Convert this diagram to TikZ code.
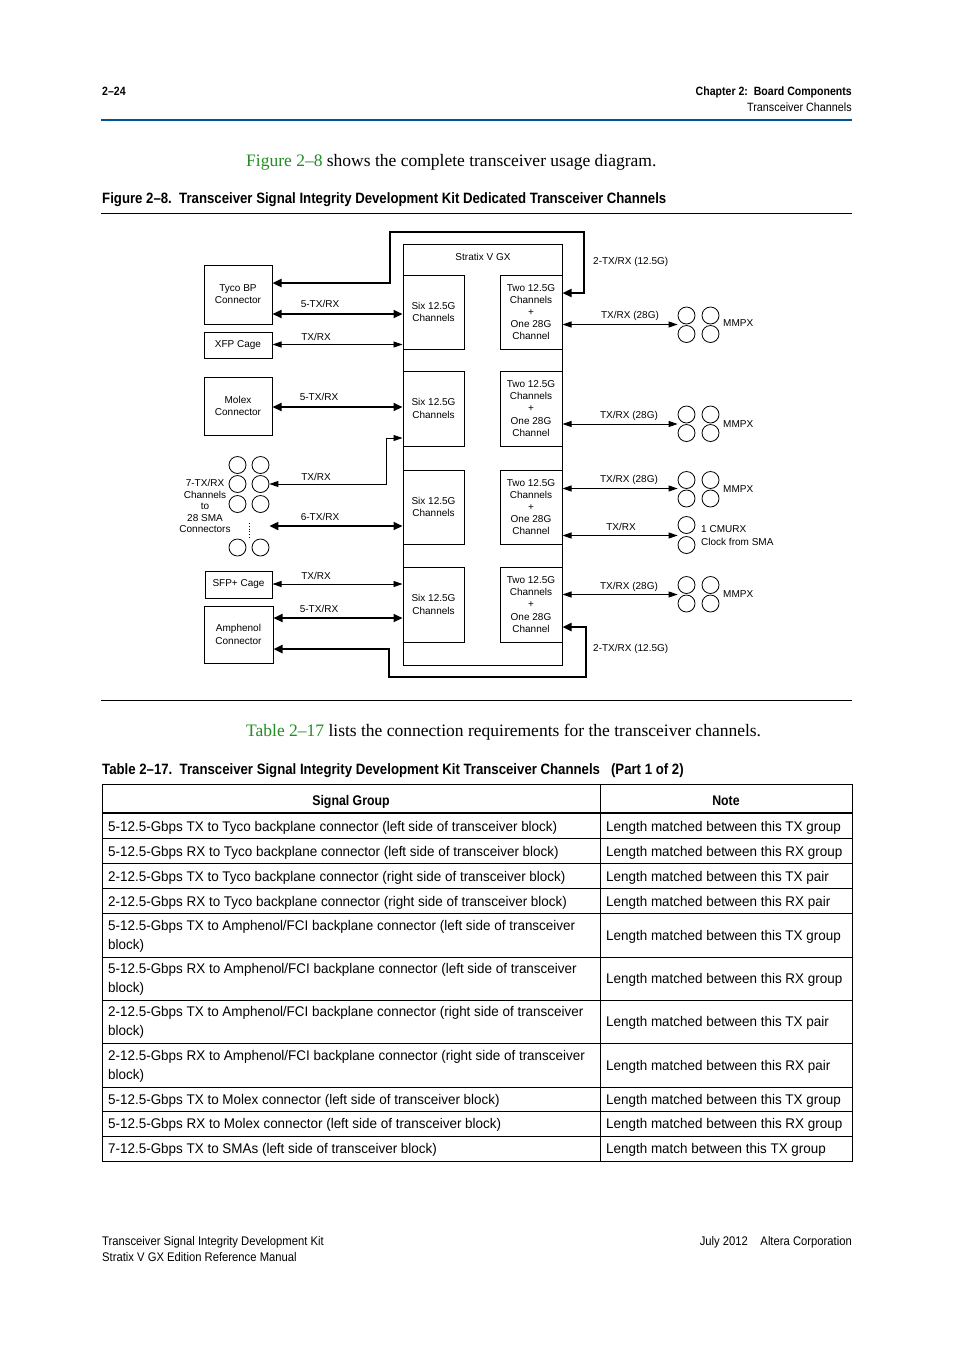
\documentclass[tikz,border=0pt]{standalone}
\usepackage{fontspec}
\setmainfont{Liberation Serif}
\setsansfont{Liberation Sans}
\newfontfamily\condfont[FakeStretch=0.9]{Liberation Sans}
\newfontfamily\capfamily[FakeStretch=0.88]{Liberation Sans}
\newfontfamily\tabfamily[FakeStretch=0.96]{Liberation Sans}
\usetikzlibrary{arrows.meta, positioning}
\definecolor{FigGreen}{RGB}{34,140,34}
\definecolor{RuleBlue}{RGB}{0,84,150}
\newcommand{\diagfont}{\sffamily\fontsize{10}{12.2}\selectfont}
\newcommand{\smafont}{\sffamily\fontsize{10}{11.5}\selectfont}
\newcommand{\headfont}{\condfont\fontsize{12}{16}\selectfont}
\newcommand{\footfont}{\condfont\fontsize{12.5}{16}\selectfont}
\newcommand{\headbold}{\capfamily\bfseries\fontsize{12}{16}\selectfont}
\newcommand{\capfont}{\capfamily\bfseries\fontsize{15}{18}\selectfont}
\newcommand{\bodyfont}{\rmfamily\fontsize{17.5}{20}\selectfont}
\newcommand{\tabfont}{\tabfamily\fontsize{14}{19}\selectfont}
\newcommand{\tabbold}{\capfamily\bfseries\fontsize{14}{19}\selectfont}

\begin{document}
\begin{tikzpicture}[x=1pt, y=-1pt,
  blk/.style={draw, line width=1pt, inner sep=0pt, align=center, font=\diagfont},
  lbl/.style={font=\diagfont, inner sep=0pt},
  sma/.style={circle, draw, line width=0.8pt, minimum size=17pt, inner sep=0pt},
  thinarr/.style={line width=0.9pt,
                  {Triangle[length=9pt,width=6pt]}-{Triangle[length=9pt,width=6pt]}},
  thickarr/.style={line width=2pt,
                   {Triangle[length=9pt,width=8pt]}-{Triangle[length=9pt,width=8pt]}},
  loopline/.style={line width=2.6pt, line join=miter,
                   {Triangle[length=9pt,width=8pt]}-{Triangle[length=9pt,width=8pt]}},
  cell/.style={anchor=base west, font=\tabfont, inner sep=0pt, align=left},
  hcell/.style={anchor=base, font=\tabbold, inner sep=0pt}
]
\useasboundingbox (0,0) rectangle (954,1350);

% Running head
\node[anchor=base west, font=\headbold, inner sep=0pt] (pagenum) at (102,95.5) {2–24};
\node[anchor=base east, font=\headbold, inner sep=0pt] (chapter) at (852,95.5) {Chapter 2:\ \ Board Components};
\node[anchor=base east, font=\headfont, inner sep=0pt] (section) at (852,111.5) {Transceiver Channels};
\draw[RuleBlue, line width=2pt] (101,120) -- (852,120);

% Intro and figure caption
\node[anchor=base west, font=\bodyfont, inner sep=0pt] (intro) at (246,166)
  {\textcolor{FigGreen}{Figure 2–8} shows the complete transceiver usage diagram.};
\node[anchor=base west, font=\capfont, inner sep=0pt] (figcap) at (102,203.5)
  {Figure 2–8.\ \ Transceiver Signal Integrity Development Kit Dedicated Transceiver Channels};
\draw[line width=0.8pt] (101,213) -- (852,213);

% Stratix V GX device
\node[blk, minimum width=159pt, minimum height=421pt] (stratix) at (482.5,454.5) {};
\node[lbl] (stxlbl) at (483,257) {Stratix V GX};
\node[blk, minimum width=61pt, minimum height=74pt] (six1) at (433.5,312)   {Six 12.5G\\Channels};
\node[blk, minimum width=61pt, minimum height=75pt] (six2) at (433.5,408.5) {Six 12.5G\\Channels};
\node[blk, minimum width=61pt, minimum height=74pt] (six3) at (433.5,507)   {Six 12.5G\\Channels};
\node[blk, minimum width=61pt, minimum height=75pt] (six4) at (433.5,604.5) {Six 12.5G\\Channels};
\node[blk, minimum width=62pt, minimum height=74pt] (two1) at (531,312)
  {Two 12.5G\\Channels\\+\\One 28G\\Channel};
\node[blk, minimum width=62pt, minimum height=75pt] (two2) at (531,408.5)
  {Two 12.5G\\Channels\\+\\One 28G\\Channel};
\node[blk, minimum width=62pt, minimum height=74pt] (two3) at (531,507)
  {Two 12.5G\\Channels\\+\\One 28G\\Channel};
\node[blk, minimum width=62pt, minimum height=75pt] (two4) at (531,604.5)
  {Two 12.5G\\Channels\\+\\One 28G\\Channel};

% Left side connectors
\node[blk, minimum width=68pt, minimum height=59pt] (tyco)  at (238,294.5) {Tyco BP\\Connector};
\node[blk, minimum width=68pt, minimum height=26pt] (xfp)   at (238,345)   {XFP Cage};
\node[blk, minimum width=68pt, minimum height=58pt] (molex) at (238,406)   {Molex\\Connector};
\node[blk, minimum width=67pt, minimum height=27pt] (sfp)   at (238.5,584.5) {SFP+ Cage};
\node[blk, minimum width=69pt, minimum height=57pt] (amph)  at (238.5,634.5) {Amphenol\\Connector};

% SMA connectors
\foreach \r/\y in {1/465, 2/484, 3/504, 4/547.5} {
  \node[sma] (sma\r a) at (237.5,\y) {};
  \node[sma] (sma\r b) at (260.5,\y) {};
}
\draw[dotted, line width=0.8pt] (249,523) -- (249,538);
\node[lbl, align=center, font=\smafont] (smalbl) at (205,506)
  {7-TX/RX\\Channels\\to\\28 SMA\\Connectors};

% MMPX and CMURX connectors
\foreach \g/\y in {1/315.5, 2/414.5, 3/480, 4/585} {
  \node[sma] (mm\g-a) at (686.5,\y) {};
  \node[sma] (mm\g-b) at (710.5,\y) {};
  \node[sma] (mm\g-c) at (686.5,\y+18.5) {};
  \node[sma] (mm\g-d) at (710.5,\y+18.5) {};
}
\node[sma] (cmu-a) at (686.5,525) {};
\node[sma] (cmu-b) at (686.5,545) {};
\node[lbl, anchor=west] (mmlbl1) at (723,323) {MMPX};
\node[lbl, anchor=west] (mmlbl2) at (723,424) {MMPX};
\node[lbl, anchor=west] (mmlbl3) at (723,489) {MMPX};
\node[lbl, anchor=west] (mmlbl4) at (723,594) {MMPX};
\node[lbl, anchor=west, align=left] (cmulbl) at (701,535.5) {1 CMURX\\Clock from SMA};

% Backplane loops
\draw[loopline] (tyco.east |- 0,283) -| (390,232) -| (584,293) -- (two1.east |- 0,293);
\draw[loopline] (amph.east |- 0,649) -| (389,677) -| (586,627) -- (two4.east |- 0,627);
\node[lbl, anchor=west] (looplbl1) at (593,262) {2-TX/RX (12.5G)};
\node[lbl, anchor=west] (looplbl2) at (593,649) {2-TX/RX (12.5G)};

% Left links
\draw[thickarr] (tyco.east |- 0,314) -- (six1.west |- 0,314);
\node[lbl] (ll1) at (320,304) {5-TX/RX};
\draw[thinarr] (xfp.east |- 0,344.5) -- (six1.west |- 0,344.5);
\node[lbl] (ll2) at (316,337) {TX/RX};
\draw[thickarr] (molex.east |- 0,407) -- (six2.west |- 0,407);
\node[lbl] (ll3) at (319,397) {5-TX/RX};
\draw[thinarr] (sma2b.east) -| (386,438) -- (six2.west |- 0,438);
\node[lbl] (ll4) at (316,477) {TX/RX};
\draw[thickarr] (sma2b.east |- 0,526) -- (six3.west |- 0,526);
\node[lbl] (ll5) at (320,517) {6-TX/RX};
\draw[thinarr] (sfp.east |- 0,584) -- (six4.west |- 0,584);
\node[lbl] (ll6) at (316,576) {TX/RX};
\draw[thickarr] (amph.east |- 0,618) -- (six4.west |- 0,618);
\node[lbl] (ll7) at (319,609) {5-TX/RX};

% Right links
\draw[thinarr] (two1.east |- 0,324.5) -- (mm1-a.west |- 0,324.5);
\node[lbl] (rl1) at (630,316) {TX/RX (28G)};
\draw[thinarr] (two2.east |- 0,424) -- (mm2-a.west |- 0,424);
\node[lbl] (rl2) at (629,416) {TX/RX (28G)};
\draw[thinarr] (two3.east |- 0,488.5) -- (mm3-a.west |- 0,488.5);
\node[lbl] (rl3) at (629,480) {TX/RX (28G)};
\draw[thinarr] (two3.east |- 0,535.5) -- (cmu-a.west |- 0,535.5);
\node[lbl] (rl4) at (621,527) {TX/RX};
\draw[thinarr] (two4.east |- 0,594.5) -- (mm4-a.west |- 0,594.5);
\node[lbl] (rl5) at (629,587) {TX/RX (28G)};

\draw[line width=0.8pt] (101,700) -- (852,700);

% Table intro and caption
\node[anchor=base west, font=\bodyfont, inner sep=0pt] (tabintro) at (246,736)
  {\textcolor{FigGreen}{Table 2–17} lists the connection requirements for the transceiver channels.};
\node[anchor=base west, font=\capfont, inner sep=0pt] (tabcap) at (102,774.5)
  {Table 2–17.\ \ Transceiver Signal Integrity Development Kit Transceiver Channels\ \ \ (Part 1 of 2)};

% Table grid
\draw[line width=0.8pt] (102,784) rectangle (852,1161);
\draw[line width=0.8pt] (600,784) -- (600,1161);
\draw[line width=1.8pt] (102,813) -- (852,813);
\foreach \y in {838,863,888,913,957,1000,1043,1087,1111,1136}
  \draw[line width=0.8pt] (102,\y) -- (852,\y);

% Table header
\node[hcell] (hsig)  at (351,805) {Signal Group};
\node[hcell] (hnote) at (726,805) {Note};

% Signal group column (two-line cells are placed by their last line)
\node[cell] (s1)  at (108,831) {5-12.5-Gbps TX to Tyco backplane connector (left side of transceiver block)};
\node[cell] (s2)  at (108,856) {5-12.5-Gbps RX to Tyco backplane connector (left side of transceiver block)};
\node[cell] (s3)  at (108,881) {2-12.5-Gbps TX to Tyco backplane connector (right side of transceiver block)};
\node[cell] (s4)  at (108,906) {2-12.5-Gbps RX to Tyco backplane connector (right side of transceiver block)};
\node[cell] (s5)  at (108,949) {5-12.5-Gbps TX to Amphenol/FCI backplane connector (left side of transceiver\\block)};
\node[cell] (s6)  at (108,992) {5-12.5-Gbps RX to Amphenol/FCI backplane connector (left side of transceiver\\block)};
\node[cell] (s7)  at (108,1035) {2-12.5-Gbps TX to Amphenol/FCI backplane connector (right side of transceiver\\block)};
\node[cell] (s8)  at (108,1079) {2-12.5-Gbps RX to Amphenol/FCI backplane connector (right side of transceiver\\block)};
\node[cell] (s9)  at (108,1104) {5-12.5-Gbps TX to Molex connector (left side of transceiver block)};
\node[cell] (s10) at (108,1128) {5-12.5-Gbps RX to Molex connector (left side of transceiver block)};
\node[cell] (s11) at (108,1153) {7-12.5-Gbps TX to SMAs (left side of transceiver block)};

% Note column
\node[cell] (n1)  at (606,831)  {Length matched between this TX group};
\node[cell] (n2)  at (606,856)  {Length matched between this RX group};
\node[cell] (n3)  at (606,881)  {Length matched between this TX pair};
\node[cell] (n4)  at (606,906)  {Length matched between this RX pair};
\node[cell] (n5)  at (606,940)  {Length matched between this TX group};
\node[cell] (n6)  at (606,983)  {Length matched between this RX group};
\node[cell] (n7)  at (606,1026) {Length matched between this TX pair};
\node[cell] (n8)  at (606,1070) {Length matched between this RX pair};
\node[cell] (n9)  at (606,1104) {Length matched between this TX group};
\node[cell] (n10) at (606,1128) {Length matched between this RX group};
\node[cell] (n11) at (606,1153) {Length match between this TX group};

% Running foot
\node[anchor=base west, font=\footfont, align=left, inner sep=0pt] (footl) at (102,1261)
  {Transceiver Signal Integrity Development Kit\\Stratix V GX Edition Reference Manual};
\node[anchor=base east, font=\footfont, inner sep=0pt] (footr) at (852,1245)
  {July 2012\ \ \ \ Altera Corporation};
\end{tikzpicture}
\end{document}
